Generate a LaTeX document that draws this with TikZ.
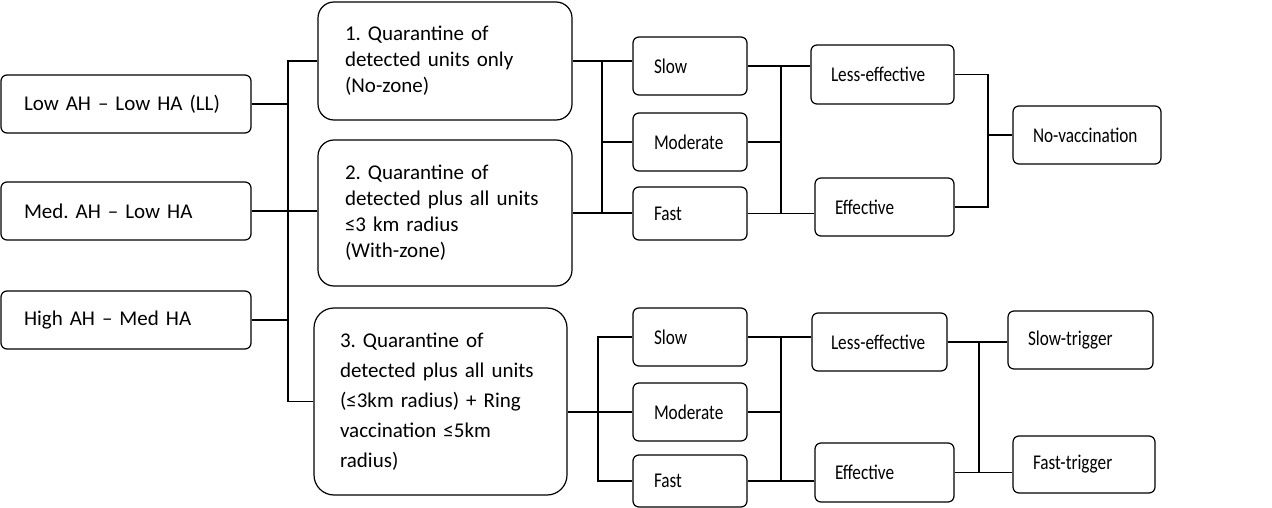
\documentclass[tikz,border=0pt]{standalone}
\usepackage{fontspec}
\setmainfont{Carlito}[WordSpace=0.8]
\newfontfamily\narrowfont{Carlito}[FakeStretch=0.82, WordSpace=0.8]
\usetikzlibrary{positioning}
\frenchspacing

\begin{document}
\begin{tikzpicture}[x=1pt, y=-1pt,
      every node/.style={font=\fontsize{21}{26}\selectfont, align=left},
      box/.style={draw, rounded corners=6pt, line width=1.2pt,
                  inner ysep=0pt, minimum height=58pt},
      qbox/.style={box, rounded corners=16pt},
      opt/.style={box, font=\narrowfont\fontsize{21}{26}\selectfont},
      link/.style={line width=1.2pt},
  ]
    \useasboundingbox (0,0) rectangle (1272,508);

    % Column 1: scenarios
    \node[box, text width=204pt, inner xsep=23pt] (ll)   at (126,104) {Low AH – Low HA (LL)};
    \node[box, text width=204pt, inner xsep=23pt] (med)  at (126,211) {Med. AH – Low HA};
    \node[box, text width=204pt, inner xsep=23pt] (high) at (126,320) {High AH – Med HA};

    % Column 2: quarantine strategies
    \node[qbox, text width=200pt, inner xsep=27pt, minimum height=118pt]
      (q1) at (445,61) {1. Quarantine of\\detected units only\\(No-zone)};
    \node[qbox, text width=200pt, inner xsep=27pt, minimum height=146pt]
      (q2) at (445,213) {2. Quarantine of\\detected plus all units\\≤3 km radius\\(With-zone)};
    \node[qbox, rounded corners=20pt, text width=201pt, inner xsep=26pt, minimum height=187pt,
          font=\fontsize{21}{30}\selectfont]
      (q3) at (440.5,401.5) {3. Quarantine of\\detected plus all units\\(≤3km radius) + Ring\\vaccination ≤5km\\radius)};

    \coordinate (jL) at (288,0);
    \draw[link] (q1.west) -- (q1.west -| jL) -- (q3.west -| jL) -- (q3.west);
    \draw[link] (ll.east) -- (ll.east -| jL);
    \draw[link] (med.east) -- (med.east -| q2.west);
    \draw[link] (high.east) -- (high.east -| jL);

    % Column 3: speed
    \node[opt, text width=72pt, inner xsep=21pt] (slowA) at (690,66) {Slow};
    \node[opt, text width=72pt, inner xsep=21pt] (modA)  at (690,142) {Moderate};
    \node[opt, text width=72pt, inner xsep=21pt, minimum height=53pt] (fastA) at (690,213.5) {Fast};
    \node[opt, text width=72pt, inner xsep=21pt] (slowB) at (690,337) {Slow};
    \node[opt, text width=72pt, inner xsep=21pt] (modB)  at (690,412) {Moderate};
    \node[opt, text width=72pt, inner xsep=21pt, minimum height=52pt] (fastB) at (690,481) {Fast};

    \coordinate (jA) at (602,0);
    \draw[link] (q1.east) -- (q1.east -| slowA.west);
    \draw[link] (q1.east -| jA) -- (q2.east -| jA);
    \draw[link] (modA.west) -- (modA.west -| jA);
    \draw[link] (q2.east) -- (q2.east -| fastA.west);

    \coordinate (jB) at (598,0);
    \draw[link] (q3.east |- modB) -- (modB.west);
    \draw[link] (slowB.west) -- (slowB.west -| jB) -- (fastB.west -| jB) -- (fastB.west);

    % Column 4: efficacy
    \node[opt, text width=103pt, inner xsep=20pt, minimum height=59pt] (lessA) at (882.5,74.5) {Less-effective};
    \node[opt, text width=99pt, inner xsep=20pt] (effA) at (884.5,207) {Effective};
    \node[opt, text width=97pt, inner xsep=19pt] (lessB) at (879.5,342) {Less-effective};
    \node[opt, text width=99pt, inner xsep=20pt, minimum height=59pt] (effB) at (884.5,472.5) {Effective};

    \coordinate (jC) at (781,0);
    \draw[link] (slowA.east) -- (slowA.east -| lessA.west);
    \draw[link] (slowA.east -| jC) -- (fastA.east -| jC);
    \draw[link] (modA.east) -- (modA.east -| jC);
    \draw[link] (fastA.east) -- (fastA.east -| effA.west);
    \draw[link] (slowB.east) -- (slowB.east -| lessB.west);
    \draw[link] (slowB.east -| jC) -- (fastB.east -| jC);
    \draw[link] (modB.east) -- (modB.east -| jC);
    \draw[link] (fastB.east) -- (fastB.east -| effB.west);

    % Column 5: vaccination
    \node[opt, text width=108pt, inner xsep=20pt] (novac) at (1087,135) {No-vaccination};
    \node[opt, text width=105pt, inner xsep=20pt] (slowT) at (1080.5,340) {Slow-trigger};
    \node[opt, text width=102pt, inner xsep=20pt, minimum height=57pt] (fastT) at (1084,464.5) {Fast-trigger};

    \coordinate (jD) at (988,0);
    \draw[link] (lessA.east) -- (lessA.east -| jD) -- (effA.east -| jD) -- (effA.east);
    \draw[link] (novac.west) -- (novac.west -| jD);

    \coordinate (jE) at (979,0);
    \draw[link] (lessB.east) -- (lessB.east -| slowT.west);
    \draw[link] (lessB.east -| jE) -- (effB.east -| jE);
    \draw[link] (effB.east) -- (effB.east -| fastT.west);
  \end{tikzpicture}
\end{document}
